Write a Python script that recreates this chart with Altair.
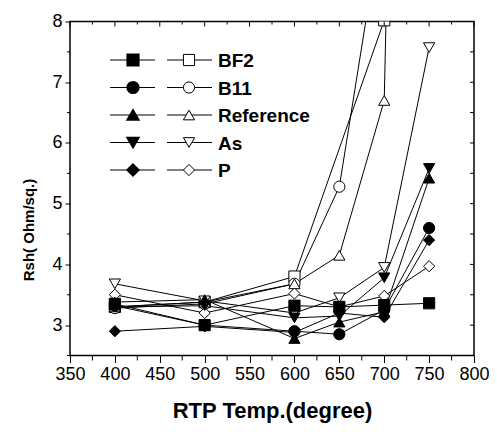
import altair as alt
import pandas as pd

# ---------------- data ----------------
temps = [400, 500, 600, 650, 700, 750]
groups = ["BF2", "B11", "Reference", "As", "P"]
shapes = ["square", "circle", "triangle-up", "triangle-down", "diamond"]

bf2_filled = [3.35, 3.00, 3.32, 3.30, 3.33, 3.36]
bf2_open = [3.30, 3.38, 3.80, None, 8.02, None]
b11_filled = [3.32, 3.00, 2.90, 2.85, 3.25, 4.60]
b11_open = [3.28, 3.35, 3.68, 5.28, 9.9, None]
ref_filled = [3.38, 3.42, 2.78, 3.05, 3.22, 5.42]
ref_open = [3.30, 3.38, 3.68, 4.15, 6.70, 40.0]
as_filled = [3.30, 3.32, 3.12, 3.15, 3.78, 5.58]
as_open = [3.68, 3.40, 3.20, 3.45, 3.95, 7.57]
p_filled = [2.90, 2.98, 2.88, 3.20, 3.13, 4.40]
p_open = [3.50, 3.20, 3.52, 3.30, 3.48, 3.97]

x_major = list(range(350, 801, 50))
x_minor = list(range(375, 800, 50))
y_major = [3, 4, 5, 6, 7, 8]
y_minor = [2.5, 3.5, 4.5, 5.5, 6.5, 7.5]
y_all = [2.5, 3, 3.5, 4, 4.5, 5, 5.5, 6, 6.5, 7, 7.5, 8]

series = [
    ("BF2", True, bf2_filled), ("BF2", False, bf2_open),
    ("B11", True, b11_filled), ("B11", False, b11_open),
    ("Reference", True, ref_filled), ("Reference", False, ref_open),
    ("As", True, as_filled), ("As", False, as_open),
    ("P", True, p_filled), ("P", False, p_open),
]
rows = []
for g, filled, vals in series:
    for t, v in zip(temps, vals):
        if v is None:
            continue
        rows.append({"temp": t, "rsh": v, "group": g, "filled": filled,
                     "sid": g + ("-f" if filled else "-o")})
df = pd.DataFrame(rows)

# ---------------- chart ----------------
W, H = 404, 334
FONT = "Liberation Sans"
MS = 125

xscale = alt.Scale(domain=[350, 800], nice=False, zero=False)
yscale = alt.Scale(domain=[2.5, 8], nice=False, zero=False)

xaxis = alt.Axis(values=x_major, tickSize=7, tickColor="black", tickWidth=1,
                 domain=False, grid=False, labelFontSize=18, labelFont=FONT,
                 labelColor="black", labelPadding=3, labelFlush=False,
                 labelOverlap=False, format="d",
                 title="RTP Temp.(degree)", titleFont=FONT, titleFontSize=22,
                 titleFontWeight="bold", titleColor="black", titleX=202,
                 titleY=62, titleBaseline="alphabetic", titleAlign="center")
yaxis = alt.Axis(values=y_major, tickSize=5, tickColor="black", tickWidth=1,
                 domain=False, grid=False, labelFontSize=18, labelFont=FONT,
                 labelColor="black", labelPadding=3, labelFlush=False,
                 labelOverlap=False, format="d",
                 title="Rsh( Ohm/sq.)", titleFont=FONT,
                 titleFontSize=15, titleFontWeight="bold", titleColor="black",
                 titleX=-37, titleY=208, titleAngle=270,
                 titleBaseline="alphabetic", titleAlign="center")

base = alt.Chart(df)
lines = base.mark_line(color="black", strokeWidth=1, clip=True).encode(
    x=alt.X("temp:Q", scale=xscale, axis=xaxis),
    y=alt.Y("rsh:Q", scale=yscale, axis=yaxis),
    detail="sid:N",
)
shape_enc = alt.Shape("group:N", scale=alt.Scale(domain=groups, range=shapes), legend=None)
open_pts = base.transform_filter("!datum.filled").mark_point(
    filled=True, fill="white", stroke="black", strokeWidth=1, size=MS,
    opacity=1, clip=True).encode(
    x=alt.X("temp:Q", scale=xscale), y=alt.Y("rsh:Q", scale=yscale), shape=shape_enc)
filled_pts = base.transform_filter("datum.filled").mark_point(
    filled=True, fill="black", stroke="black", strokeWidth=1, size=MS,
    opacity=1, clip=True).encode(
    x=alt.X("temp:Q", scale=xscale), y=alt.Y("rsh:Q", scale=yscale), shape=shape_enc)

# extra ticks (minor / mirrored)
dx_major = pd.DataFrame({"t": x_major})
dx_minor = pd.DataFrame({"t": x_minor})
dy_all = pd.DataFrame({"v": y_all})
dy_minor = pd.DataFrame({"v": y_minor})

tick_layers = [
    alt.Chart(dx_major).mark_rule(color="black", strokeWidth=1).encode(
        x=alt.X("t:Q", scale=xscale), y=alt.value(0), y2=alt.value(5)),
    alt.Chart(dx_minor).mark_rule(color="black", strokeWidth=1).encode(
        x=alt.X("t:Q", scale=xscale), y=alt.value(0), y2=alt.value(3)),
    alt.Chart(dx_minor).mark_rule(color="black", strokeWidth=1).encode(
        x=alt.X("t:Q", scale=xscale), y=alt.value(H), y2=alt.value(H + 5)),
    alt.Chart(dy_all).mark_rule(color="black", strokeWidth=1).encode(
        y=alt.Y("v:Q", scale=yscale), x=alt.value(W), x2=alt.value(W - 4)),
    alt.Chart(dy_minor).mark_rule(color="black", strokeWidth=1).encode(
        y=alt.Y("v:Q", scale=yscale), x=alt.value(0), x2=alt.value(-3)),
]

# legend (drawn inside the plot)
legend_layers = []
for i, (g, shp) in enumerate(zip(groups, shapes)):
    ly = 38.5 + i * 27.5
    ldf = pd.DataFrame({"group": [g]})
    c = alt.Chart(ldf)
    legend_layers += [
        c.mark_rule(color="black", strokeWidth=1).encode(
            x=alt.value(40), x2=alt.value(85), y=alt.value(ly)),
        c.mark_rule(color="black", strokeWidth=1).encode(
            x=alt.value(97), x2=alt.value(142), y=alt.value(ly)),
        c.mark_point(filled=True, fill="black", stroke="black", size=MS,
                     opacity=1, shape=shp).encode(x=alt.value(63), y=alt.value(ly)),
        c.mark_point(filled=True, fill="white", stroke="black", strokeWidth=1,
                     size=MS, opacity=1, shape=shp).encode(x=alt.value(119), y=alt.value(ly)),
        c.mark_text(align="left", baseline="middle", font=FONT, fontSize=19,
                    fontWeight="bold", color="black").encode(
            x=alt.value(148), y=alt.value(ly + 1), text="group:N"),
    ]

chart = alt.layer(lines, open_pts, filled_pts, *tick_layers, *legend_layers).properties(
    width=W, height=H,
    padding={"left": 62, "top": 13.5, "right": 15, "bottom": 68.5},
    autosize=alt.AutoSizeParams(type="none"),
    background="white",
).configure_view(stroke="black", strokeWidth=1.5)

chart.save("out.html", embed_options={"renderer": "svg", "actions": False})
